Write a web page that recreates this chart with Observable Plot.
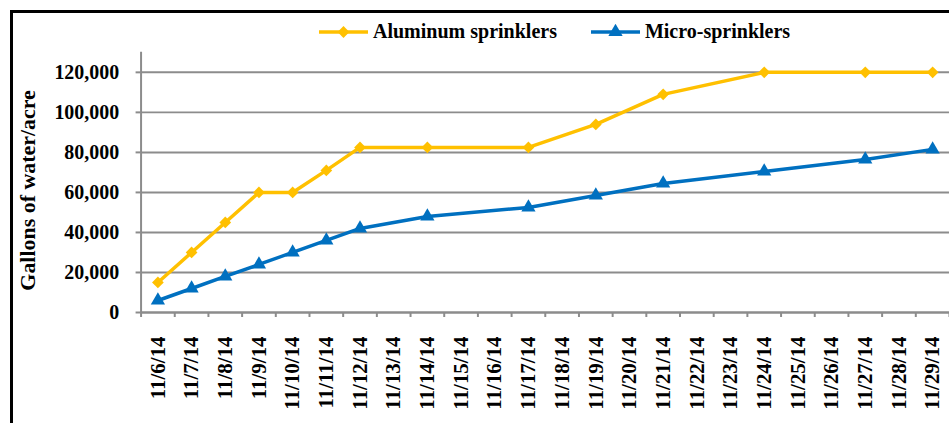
<!DOCTYPE html>
<html>
<head>
<meta charset="utf-8">
<script src="https://cdn.jsdelivr.net/npm/d3@7"></script>
<script src="https://cdn.jsdelivr.net/npm/@observablehq/plot@0.6"></script>
<style>
  html, body { margin: 0; padding: 0; background: #fff; overflow: hidden; }
  #wrap { position: relative; width: 949px; height: 423px; overflow: hidden; font-family: "Liberation Serif", "Times New Roman", serif; }
  #border { position: absolute; left: 10px; top: 10px; width: 1000px; height: 500px; border-left: 3px solid #000; border-top: 3px solid #000; box-sizing: border-box; }
  #chart { position: absolute; left: 0; top: 0; }
  #chart svg, #chart svg text { font-family: "Liberation Serif", "Times New Roman", serif !important; }
  #legend { position: absolute; top: 20px; left: 319px; display: flex; align-items: center; font-weight: bold; font-size: 20px; color: #000; white-space: nowrap; }
  .item { display: flex; align-items: center; }
  .item svg { display: block; margin-right: 5px; }
</style>
</head>
<body>
<div id="wrap">
  <div id="border"></div>
  <div id="chart"></div>
  <div id="legend"></div>
</div>
<script>
// ---- data ----
const dates = ["11/6/14","11/7/14","11/8/14","11/9/14","11/10/14","11/11/14","11/12/14","11/13/14","11/14/14","11/15/14","11/16/14","11/17/14","11/18/14","11/19/14","11/20/14","11/21/14","11/22/14","11/23/14","11/24/14","11/25/14","11/26/14","11/27/14","11/28/14","11/29/14"];
const measuredDates = ["11/6/14","11/7/14","11/8/14","11/9/14","11/10/14","11/11/14","11/12/14","11/14/14","11/17/14","11/19/14","11/21/14","11/24/14","11/27/14","11/29/14"];
const aluminumValues = [15000,30000,45000,60000,60000,71000,82500,82500,82500,94000,109000,120000,120000,120000];
const microValues = [6000,12000,18000,24000,30000,36000,42000,48000,52500,58500,64500,70500,76500,81500];
const yTicks = [0,20000,40000,60000,80000,100000,120000];
const seriesNames = ["Aluminum sprinklers","Micro-sprinklers"];
const yLabel = "Gallons of water/acre";

const colors = {alu: "#FFC000", micro: "#0070C0"};
const grid = "#8c8c8c";
const serif = '"Liberation Serif", "Times New Roman", serif';

const alu = measuredDates.map((d, i) => ({date: d, idx: dates.indexOf(d), value: aluminumValues[i]}));
const micro = measuredDates.map((d, i) => ({date: d, idx: dates.indexOf(d), value: microValues[i]}));

const boundaries = d3.range(dates.length + 1).map(i => i - 0.5);

const plot = Plot.plot({
  width: 952,
  height: 423,
  marginLeft: 141,
  marginRight: 0,
  marginTop: 52,
  marginBottom: 110,
  style: {fontFamily: serif, background: "transparent", overflow: "visible"},
  x: {type: "linear", domain: [-0.5, dates.length - 0.5]},
  y: {domain: [0, 130000]},
  marks: [
    Plot.gridY(yTicks, {stroke: grid, strokeOpacity: 1, strokeWidth: 2}),
    Plot.ruleX([-0.5], {stroke: grid, strokeWidth: 2}),
    Plot.ruleY([0], {stroke: grid, strokeWidth: 2}),
    Plot.axisY(yTicks, {tickSize: 5, tickPadding: 17, stroke: grid, strokeWidth: 2, fill: "#000",
      tickFormat: d3.format(","), fontSize: 20, fontWeight: "bold", fontFamily: serif, label: null}),
    Plot.axisX(boundaries, {tickSize: 5, stroke: grid, strokeWidth: 2, tickFormat: () => "", label: null}),
    Plot.axisX(d3.range(dates.length), {tickSize: 0, tickPadding: 24, tickRotate: -90, fill: "#000",
      tickFormat: i => dates[i], fontSize: 21, fontWeight: "bold", fontFamily: serif, label: null}),
    Plot.text([yLabel], {frameAnchor: "left", text: d => d, rotate: -90, textAnchor: "middle", dx: -113, dy: 8,
      fontSize: 22, fontWeight: "bold", fontFamily: serif, fill: "#000"}),
    Plot.line(alu, {x: "idx", y: "value", stroke: colors.alu, strokeWidth: 3.5}),
    Plot.line(micro, {x: "idx", y: "value", stroke: colors.micro, strokeWidth: 3.5}),
    Plot.dot(alu, {x: "idx", y: "value", symbol: "diamond2", r: 5.3, fill: colors.alu, stroke: "none"}),
    Plot.dot(micro, {x: "idx", y: "value", symbol: "triangle", r: 5.3, fill: colors.micro, stroke: "none"})
  ]
});
document.getElementById("chart").appendChild(plot);

// ---- legend ----
const legend = document.getElementById("legend");
const keys = [
  {name: seriesNames[0], color: colors.alu, shape: "diamond", gap: 34},
  {name: seriesNames[1], color: colors.micro, shape: "triangle", gap: 0}
];
keys.forEach(k => {
  const item = document.createElement("div");
  item.className = "item";
  item.style.marginRight = k.gap + "px";
  const ns = "http://www.w3.org/2000/svg";
  const svg = document.createElementNS(ns, "svg");
  svg.setAttribute("width", 49); svg.setAttribute("height", 16);
  const line = document.createElementNS(ns, "line");
  line.setAttribute("x1", 0); line.setAttribute("x2", 49);
  line.setAttribute("y1", 8); line.setAttribute("y2", 8);
  line.setAttribute("stroke", k.color); line.setAttribute("stroke-width", 3.5);
  svg.appendChild(line);
  const p = document.createElementNS(ns, "path");
  const sym = k.shape === "diamond" ? d3.symbolDiamond2 : d3.symbolTriangle;
  p.setAttribute("d", d3.symbol(sym, Math.PI * 5.3 * 5.3)());
  p.setAttribute("transform", "translate(24.5,8)");
  p.setAttribute("fill", k.color);
  svg.appendChild(p);
  item.appendChild(svg);
  const t = document.createElement("span");
  t.textContent = k.name;
  item.appendChild(t);
  legend.appendChild(item);
});
</script>
</body>
</html>
